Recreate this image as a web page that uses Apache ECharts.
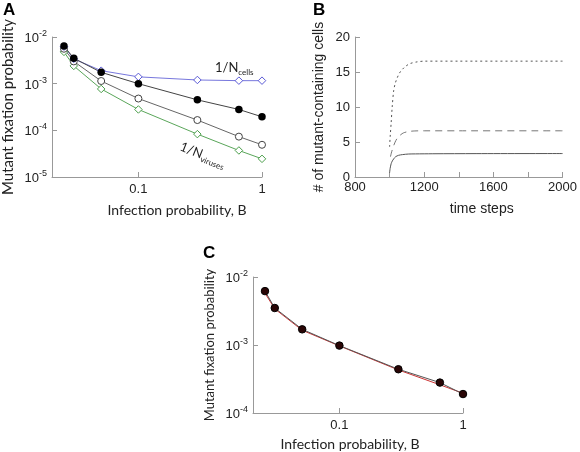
<!DOCTYPE html>
<html><head><meta charset="utf-8">
<script src="https://cdn.jsdelivr.net/npm/echarts@6/dist/echarts.min.js"></script>
<style>html,body{margin:0;padding:0;background:#fff}#c{width:580px;height:452px}</style>
</head><body><div id="c"></div>
<script>
// Panel A data
const infectionB = [0.025, 0.03, 0.05, 0.1, 0.3, 0.65, 1];
const fixFilled = [0.0064, 0.0035, 0.00175, 0.001, 0.00045, 0.00028, 0.000195];
const fixOpen = [0.0056, 0.003, 0.00114, 0.00048, 0.000166, 0.0000733, 0.000049];
const invNviruses = [0.0048, 0.0024, 0.00077, 0.00028, 0.000083, 0.000037, 0.0000245];
const invNcells = [0.0062, 0.0034, 0.0019, 0.0014, 0.0012, 0.00116, 0.00116];
// Panel B data
const tSolid = [1000, 1003, 1009, 1016, 1024, 1035, 1052, 1075, 1108, 1150, 1250, 1500, 2000];
const vSolid = [0.6, 1.2, 1.9, 2.3, 2.6, 2.9, 3.1, 3.2, 3.28, 3.3, 3.32, 3.34, 3.35];
const tDashed = [1005, 1012, 1024, 1036, 1049, 1065, 1080, 1110, 1146, 1200, 1400, 2000];
const vDashed = [2.9, 3.6, 4.5, 5.2, 5.7, 6.05, 6.3, 6.5, 6.58, 6.6, 6.6, 6.6];
const tDotted = [1000, 1004, 1009, 1015, 1024, 1033, 1043, 1056, 1071, 1092, 1118, 1160, 1202, 1400, 2000];
const vDotted = [4.3, 6.0, 7.7, 10.0, 12.4, 13.4, 14.1, 14.8, 15.3, 15.8, 16.2, 16.45, 16.55, 16.55, 16.55];
// Panel C data
const fixC = [0.0062, 0.0035, 0.0017, 0.00098, 0.00044, 0.00028, 0.00019];
const fixCred = [0.0058, 0.0034, 0.00165, 0.00097, 0.00043, 0.00026, 0.000195];
// tick labels
const logXTicks = [0.1, 1];
const logYTicksA = [1e-5, 1e-4, 1e-3, 1e-2];
const logYTicksC = [1e-4, 1e-3, 1e-2];
const timeLabels = [800, 1200, 1600, 2000];

const pair = (xs, ys) => xs.map((x, i) => [x, ys[i]]);
const tickFont = 'Liberation Sans, Arial, sans-serif';
const titleFont = 'Lato, Open Sans, sans-serif';
const axisGray = '#999';
const powFmt = v => '{b|10}{s|' + Math.round(Math.log10(v)) + '}';
const powRich = {
  b: {fontSize: 13, fontFamily: tickFont, color: '#222', lineHeight: 16, verticalAlign: 'bottom'},
  s: {fontSize: 9, fontFamily: tickFont, color: '#222', lineHeight: 16, verticalAlign: 'top', padding: [0,0,8,0]}
};
function logX(gi, pad, size, gap) {
  return {
    gridIndex: gi, type: 'log', logBase: 10, min: 0.02, max: 1,
    axisLine: {lineStyle: {color: axisGray, width: 1}},
    axisTick: {inside: true, length: 5, customValues: logXTicks, lineStyle: {color: axisGray}},
    axisLabel: {customValues: logXTicks, formatter: v => (v >= 1 ? '1' : '0.1'), fontSize: 13, fontFamily: tickFont, color: '#222', margin: 6},
    splitLine: {show: false}, minorTick: {show: false},
    name: 'Infection probability, B', nameLocation: 'middle', nameGap: gap,
    nameTextStyle: {fontSize: size, fontFamily: titleFont, color: '#222', padding: pad}
  };
}
function logY(gi, min, ticks, gap, size) {
  return {
    gridIndex: gi, type: 'log', logBase: 10, min: min, max: 0.01,
    axisLine: {show: true, lineStyle: {color: axisGray, width: 1}},
    axisTick: {show: true, inside: true, length: 5, customValues: ticks, lineStyle: {color: axisGray}},
    axisLabel: {customValues: ticks, formatter: powFmt, rich: powRich, margin: 5},
    splitLine: {show: false},
    name: 'Mutant fixation probability', nameLocation: 'middle', nameGap: gap,
    nameTextStyle: {fontSize: size, fontFamily: titleFont, color: '#222'}
  };
}
const openSym = (c) => ({color: '#fff', borderColor: c, borderWidth: 1});
const subRich = {
  n: {fontSize: 13, fontFamily: titleFont, fill: '#222', lineHeight: 15, verticalAlign: 'top'},
  s: {fontSize: 8, fontFamily: titleFont, fill: '#222', lineHeight: 15, verticalAlign: 'bottom', padding: [6,0,0,0]}
};

const chart = echarts.init(document.getElementById('c'), null, {renderer: 'canvas'});
chart.setOption({
  animation: false,
  backgroundColor: '#fff',
  grid: [
    {left: 52, top: 37, width: 210, height: 140},
    {left: 355, top: 37, width: 212, height: 140},
    {left: 253, top: 277, width: 210, height: 137}
  ],
  xAxis: [
    logX(0, [0, 0, 0, 40], 14, 26),
    {
      gridIndex: 1, type: 'value', min: 800, max: 2000, interval: 200,
      axisLine: {lineStyle: {color: axisGray}},
      axisTick: {inside: true, length: 5, lineStyle: {color: axisGray}},
      axisLabel: {customValues: timeLabels, formatter: v => String(v), fontSize: 13, fontFamily: tickFont, color: '#222', margin: 4},
      splitLine: {show: false},
      name: 'time steps', nameLocation: 'middle', nameGap: 25,
      nameTextStyle: {fontSize: 14, fontFamily: tickFont, color: '#222', padding: [0, 0, 0, 46]}
    },
    logX(2, [0, 16, 0, 0], 14, 24)
  ],
  yAxis: [
    logY(0, 1e-5, logYTicksA, 36, 15),
    {
      gridIndex: 1, type: 'value', min: 0, max: 20, interval: 5,
      axisLine: {show: true, lineStyle: {color: axisGray}},
      axisTick: {show: true, inside: true, length: 5, lineStyle: {color: axisGray}},
      axisLabel: {fontSize: 13, fontFamily: tickFont, color: '#222', margin: 5},
      splitLine: {show: false},
      name: '# of mutant-containing cells', nameLocation: 'middle', nameGap: 29,
      nameTextStyle: {fontSize: 14, fontFamily: tickFont, color: '#222'}
    },
    logY(2, 1e-4, logYTicksC, 37, 13)
  ],
  series: [
    {type: 'line', xAxisIndex: 0, yAxisIndex: 0, data: pair(infectionB, invNviruses), symbol: 'diamond', symbolSize: 7.5,
      lineStyle: {color: '#5aa65a', width: 1}, itemStyle: openSym('#4a9e4a')},
    {type: 'line', xAxisIndex: 0, yAxisIndex: 0, data: pair(infectionB, fixOpen), symbol: 'circle', symbolSize: 7,
      lineStyle: {color: '#666', width: 1}, itemStyle: openSym('#444')},
    {type: 'line', xAxisIndex: 0, yAxisIndex: 0, data: pair(infectionB, invNcells), symbol: 'diamond', symbolSize: 7.5,
      lineStyle: {color: '#7777dd', width: 1}, itemStyle: openSym('#5a5ad6')},
    {type: 'line', xAxisIndex: 0, yAxisIndex: 0, data: pair(infectionB, fixFilled), symbol: 'circle', symbolSize: 7.5,
      lineStyle: {color: '#444', width: 1}, itemStyle: {color: '#000'}},
    {type: 'line', xAxisIndex: 1, yAxisIndex: 1, data: pair(tSolid, vSolid), symbol: 'none', smooth: 0.3,
      lineStyle: {color: '#555', width: 1}},
    {type: 'line', xAxisIndex: 1, yAxisIndex: 1, data: pair(tDashed, vDashed), symbol: 'none', smooth: 0.3,
      lineStyle: {color: '#777', width: 1, type: [7, 5]}},
    {type: 'line', xAxisIndex: 1, yAxisIndex: 1, data: pair(tDotted, vDotted), symbol: 'none', smooth: 0.3,
      lineStyle: {color: '#555', width: 1, type: [2, 3]}},
    {type: 'line', xAxisIndex: 2, yAxisIndex: 2, data: pair(infectionB, fixCred), symbol: 'none',
      lineStyle: {color: '#cc3333', width: 1}},
    {type: 'line', xAxisIndex: 2, yAxisIndex: 2, data: pair(infectionB, fixC), symbol: 'circle', symbolSize: 7.5,
      lineStyle: {color: '#555', width: 1}, itemStyle: {color: '#2a0606', borderColor: '#000', borderWidth: 1}}
  ],
  graphic: [
    {type: 'text', left: 3, top: 2, style: {text: 'A', font: 'bold 17px Liberation Sans, Arial', fill: '#000'}},
    {type: 'text', left: 313, top: 2, style: {text: 'B', font: 'bold 17px Liberation Sans, Arial', fill: '#000'}},
    {type: 'text', left: 203, top: 245, style: {text: 'C', font: 'bold 17px Liberation Sans, Arial', fill: '#000'}},
    {type: 'text', x: 215, y: 61, style: {text: '{n|1/N}{s|cells}', rich: subRich}},
    {type: 'text', x: 183, y: 140, rotation: -0.38, style: {text: '{n|1/N}{s|viruses}', rich: subRich}}
  ]
});
</script></body></html>
